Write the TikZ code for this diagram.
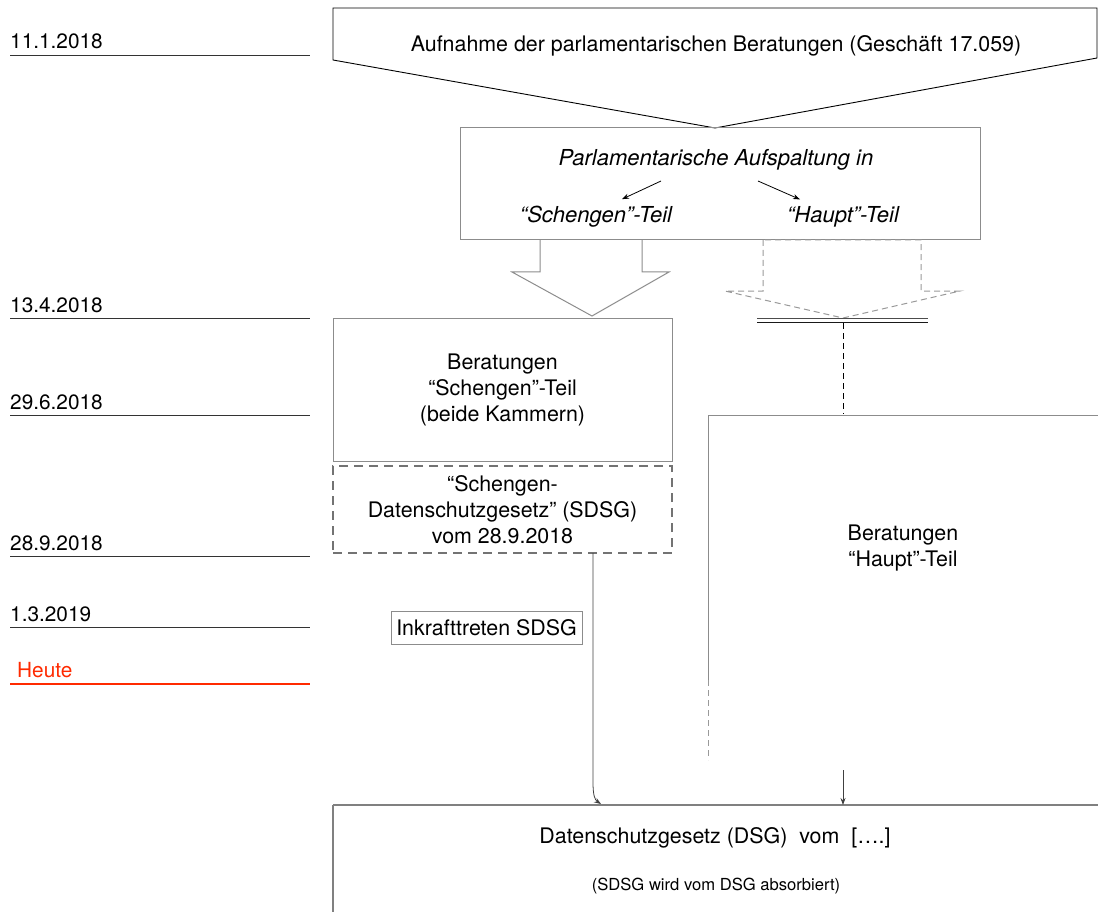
\documentclass[tikz,border=0pt]{standalone}
\usepackage{fontspec}
\setmainfont{TeX Gyre Heros}
\usepackage{xcolor}
\usetikzlibrary{arrows.meta,positioning,calc}

\definecolor{heuterot}{HTML}{FF2A00}

\tikzset{
  txt/.style={font=\fontsize{21.4}{26}\selectfont, align=center, inner sep=2pt},
  kursiv/.style={font=\fontsize{22}{26}\selectfont\itshape, inner sep=2pt},
  klein/.style={font=\fontsize{16.6}{20}\selectfont, inner sep=2pt},
  datum/.style={font=\fontsize{20.8}{24}\selectfont, anchor=base west, inner sep=0pt},
  zeitlinie/.style={draw=black!80, line width=0.9pt},
  kasten/.style={draw=black!45, line width=1pt},
  strichkasten/.style={draw=black!55, line width=2pt, dash pattern=on 9pt off 6pt},
  grauweg/.style={draw=black!40, line width=1pt, dash pattern=on 6pt off 4pt},
  pfeil/.style={-{Stealth[length=7pt,width=5pt]}, line width=0.8pt},
}

\begin{document}
\begin{tikzpicture}[x=1pt,y=-1pt]
    \clip (0,0) rectangle (1098,912);

    % Zeitachse
    \node[datum] (d1) at (10,49) {11.1.2018};
    \draw[zeitlinie] (10,55) -- (310,55);
    \node[datum] (d2) at (10,312) {13.4.2018};
    \draw[zeitlinie] (10,318) -- (310,318);
    \node[datum] (d3) at (10,409) {29.6.2018};
    \draw[zeitlinie] (10,415) -- (310,415);
    \node[datum] (d4) at (10,550) {28.9.2018};
    \draw[zeitlinie] (10,556) -- (310,556);
    \node[datum] (d5) at (10,621) {1.3.2019};
    \draw[zeitlinie] (10,627) -- (310,627);
    \node[datum, text=heuterot] (heute) at (17,677) {Heute};
    \draw[draw=heuterot, line width=2pt] (10,684) -- (310,684);

    % Aufnahme
    \draw[line width=0.9pt] (333,8) -- (1097,8) -- (1097,58) -- (715,128) -- (333,60) -- cycle;
    \node[txt] (aufnahme) at (716,46) {Aufnahme der parlamentarischen Beratungen (Geschäft 17.059)};

    % Aufspaltung
    \draw[kasten] (460,128) rectangle (980,240);
    \node[kursiv] (aufsp) at (716,160) {Parlamentarische Aufspaltung in};
    \node[kursiv] (schteil) at (596,217) {“Schengen”-Teil};
    \node[kursiv] (hteil) at (843,217) {“Haupt”-Teil};
    \draw[pfeil] ([xshift=-55pt,yshift=-21pt]aufsp.center) -- ([xshift=26pt,yshift=5pt]schteil.north);
    \draw[pfeil] ([xshift=42pt,yshift=-21pt]aufsp.center) -- ([xshift=-43pt,yshift=5pt]hteil.north);

    % Blockpfeile
    \draw[kasten] (540,240) -- (540,272) -- (512,272) -- (592,316) -- (669,272) -- (642,272) -- (642,240);
    \draw[grauweg] (763,240) -- (763,291) -- (725,291) -- (843,318) -- (960,291) -- (921,291) -- (921,240) -- cycle;
    \draw[draw=black!70, line width=1pt] (757,318) -- (928,318);
    \draw[draw=black!90, line width=1pt] (757,322) -- (928,322);
    \coordinate (doppel) at (843,323);

    % Schengen-Teil
    \node[kasten, txt, minimum width=339, minimum height=143] (berschengen) at (502.5,389.5)
        {Beratungen\\“Schengen”-Teil\\(beide Kammern)};
    \node[strichkasten, txt, minimum width=339, minimum height=87] (sdsg) at (502.5,509.5)
        {“Schengen-\\Datenschutzgesetz” (SDSG)\\vom 28.9.2018};
    \node[kasten, txt, line width=0.8pt, minimum width=191, minimum height=33] (inkraft) at (486.5,627.5)
        {Inkrafttreten SDSG};

    % Haupt-Teil
    \draw[kasten] (708,680) -- (708,415) -- (1098,415);
    \draw[grauweg] (708,680) -- (708,760);
    \node[txt] (berhaupt) at (903,548) {Beratungen\\“Haupt”-Teil};
    \draw[dashed, line width=1pt, dash pattern=on 6pt off 4pt] (doppel) -- (doppel |- 0,414);

    % DSG
    \draw[draw=black!50, line width=1.2pt] (333,912) -- (333,805);
    \draw[draw=black!50, line width=2pt] (333,805) -- (1098,805);
    \coordinate (dsgkante) at (333,805);
    \node[txt] (dsg) at (715,838) {Datenschutzgesetz (DSG)\ \ vom\ \ [….]};
    \node[klein] (absorb) at (716,886) {(SDSG wird vom DSG absorbiert)};

    \coordinate (sdsgaus) at (593,553);
    \draw[pfeil, draw=black!75] (sdsgaus) -- (593,782) .. controls (593,796) and (595,800) .. (601,804);
    \coordinate (hauptaus) at (843,770);
    \draw[pfeil, draw=black!75] (hauptaus) -- (hauptaus |- dsgkante);
\end{tikzpicture}
\end{document}
